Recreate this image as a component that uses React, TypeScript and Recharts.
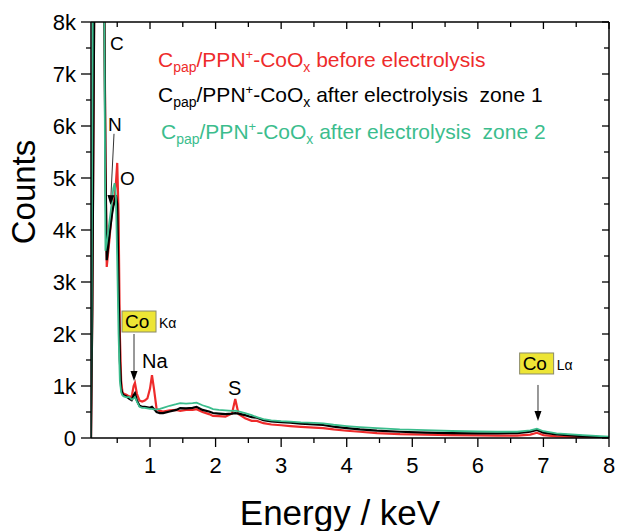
import { LineChart, Line, XAxis, YAxis } from "recharts";

const FONT = "'Liberation Sans', Arial, sans-serif";
const RED = "#ee2b2b";
const GREEN = "#3bbd8d";

// spectrum (counts above 8k are clipped by the axis)
const energy = [
  0.1, 0.12, 0.14, 0.16, 0.2, 0.25, 0.28, 0.3, 0.32, 0.34, 0.36, 0.38, 0.4, 0.42, 0.44, 0.46, 0.48, 0.5,
  0.52, 0.54, 0.56, 0.58, 0.6, 0.64, 0.68, 0.72, 0.75, 0.77, 0.8, 0.84, 0.88, 0.92, 0.96, 1.0, 1.03, 1.06,
  1.1, 1.15, 1.2, 1.3, 1.4, 1.46, 1.55, 1.65, 1.71, 1.8, 1.9, 1.96, 2.05, 2.15, 2.25, 2.3, 2.35, 2.45,
  2.55, 2.63, 2.73, 2.85, 3.0, 3.14, 3.3, 3.5, 3.64, 3.8, 4.0, 4.2, 4.46, 4.81, 5.2, 5.6, 6.0, 6.3, 6.6,
  6.8, 6.9, 7.0, 7.2, 7.6, 8.0,
];
const countsBefore = [
  0, 2500, 6500, 10500, 20000, 30000, 20000, 9000, 5500, 3290, 3550, 3800, 4100, 4350, 4500, 4650, 4900, 5290,
  4300, 2000, 1100, 880, 850, 830, 800, 790, 1000, 1060, 850, 720, 700, 720, 760, 950, 1210, 950,
  560, 520, 510, 530, 540, 520, 540, 540, 555, 500, 460, 425, 420, 410, 470, 750, 460, 380,
  330, 330, 285, 260, 245, 230, 215, 200, 190, 165, 140, 120, 95, 75, 65, 55, 50, 45, 45,
  65, 100, 55, 30, 15, 5,
];
const countsZone1 = [
  0, 2500, 6500, 10500, 20000, 30000, 20000, 9000, 5200, 3420, 3650, 3900, 4100, 4300, 4450, 4550, 4670, 4500,
  3000, 1500, 950, 850, 820, 800, 760, 730, 820, 860, 720, 620, 600, 600, 590, 580, 600, 560,
  500, 480, 480, 510, 540, 575, 570, 580, 600, 540, 510, 480, 470, 460, 470, 480, 470, 440,
  400, 390, 345, 320, 305, 295, 275, 260, 250, 220, 190, 165, 140, 120, 105, 95, 90, 90, 95,
  120, 155, 100, 70, 35, 10,
];
const countsZone2 = [
  0, 6000, 12000, 16000, 22000, 30000, 20000, 9000, 3600, 3750, 3950, 4150, 4350, 4550, 4800, 4900, 4650, 3400,
  2000, 1100, 880, 820, 800, 780, 790, 740, 760, 790, 700, 600, 580, 580, 570, 560, 560, 550,
  550, 560, 580, 620, 650, 670, 660, 670, 680, 630, 590, 555, 540, 530, 520, 525, 510, 480,
  440, 400, 365, 340, 325, 315, 300, 290, 280, 255, 230, 210, 190, 165, 150, 135, 125, 120, 120,
  145, 180, 130, 90, 55, 25,
];

const xTicks = [0.5, 1, 1.5, 2, 2.5, 3, 3.5, 4, 4.5, 5, 5.5, 6, 6.5, 7, 7.5, 8];
const yTicks = [0, 500, 1000, 1500, 2000, 2500, 3000, 3500, 4000, 4500, 5000, 5500, 6000, 6500, 7000, 7500, 8000];
const yTickLabel = (v: number) => (v === 0 ? "0" : `${v / 1000}k`);

const data = energy.map((e, i) => ({
  e,
  before: countsBefore[i],
  zone1: countsZone1[i],
  zone2: countsZone2[i],
}));

const W = 617;
const H = 531;
const X_MIN = 0.1;
const X_MAX = 8;
const Y_MAX = 8000;
const PLOT = { left: 91, right: 609, top: 22, bottom: 438 };

const toX = (e: number) => PLOT.left + ((e - X_MIN) / (X_MAX - X_MIN)) * (PLOT.right - PLOT.left);
const toY = (c: number) => PLOT.bottom - (c / Y_MAX) * (PLOT.bottom - PLOT.top);

const BottomTick = (p: any) => {
  const v = p.payload.value;
  const major = Number.isInteger(v);
  return (
    <g>
      <line x1={p.x} x2={p.x} y1={p.y} y2={p.y + (major ? 9 : 5)} stroke="#000" strokeWidth={1.3} />
      {major && (
        <text x={p.x} y={p.y + 35} textAnchor="middle" fontSize={22} fontFamily={FONT} fill="#000">
          {v}
        </text>
      )}
    </g>
  );
};

const TopTick = (p: any) => {
  const major = Number.isInteger(p.payload.value);
  return <line x1={p.x} x2={p.x} y1={p.y} y2={p.y + (major ? 7 : 5)} stroke="#000" strokeWidth={1.3} />;
};

const LeftTick = (p: any) => {
  const v = p.payload.value;
  const major = v % 1000 === 0;
  return (
    <g>
      <line x1={p.x - (major ? 10 : 5)} x2={p.x} y1={p.y} y2={p.y} stroke="#000" strokeWidth={1.3} />
      {major && (
        <text x={p.x - 15} y={p.y + 8} textAnchor="end" fontSize={22} fontFamily={FONT} fill="#000">
          {yTickLabel(v)}
        </text>
      )}
    </g>
  );
};

const RightTick = (p: any) => {
  const major = p.payload.value % 1000 === 0;
  return <line x1={p.x - (major ? 7 : 5)} x2={p.x} y1={p.y} y2={p.y} stroke="#000" strokeWidth={1.3} />;
};

const Arrow = ({ x1, y1, x2, y2 }: { x1: number; y1: number; x2: number; y2: number }) => {
  const a = Math.atan2(y2 - y1, x2 - x1);
  const len = 10;
  const hw = 3.5;
  const bx = x2 - len * Math.cos(a);
  const by = y2 - len * Math.sin(a);
  const px = -Math.sin(a) * hw;
  const py = Math.cos(a) * hw;
  return (
    <g>
      <line x1={x1} y1={y1} x2={bx} y2={by} stroke="#333" strokeWidth={1} />
      <polygon points={`${x2},${y2} ${bx + px},${by + py} ${bx - px},${by - py}`} fill="#000" />
    </g>
  );
};

const Legend = ({ y, x, color, tail }: { y: number; x: number; color: string; tail: string }) => (
  <text x={x} y={y} fill={color} fontSize={21} fontFamily={FONT} style={{ whiteSpace: "pre" }}>
    C
    <tspan fontSize={14} dy={5}>pap</tspan>
    <tspan dy={-5}>/PPN</tspan>
    <tspan fontSize={13} dy={-8}>+</tspan>
    <tspan dy={8}>-CoO</tspan>
    <tspan fontSize={14} dy={5}>x</tspan>
    <tspan dy={-5}>{tail}</tspan>
  </text>
);

const CoBox = ({ x, y, line }: { x: number; y: number; line: string }) => (
  <g>
    <rect x={x} y={y} width={34} height={21} fill="#ede535" stroke="#8a8a6a" strokeWidth={1} />
    <text x={x + 3} y={y + 17} fontSize={19} fontFamily={FONT} fill="#000">
      Co
    </text>
    <text x={x + 37} y={y + 17} fontSize={14} fontFamily={FONT} fill="#000">
      {line}
    </text>
  </g>
);

export default function App() {
  return (
    <div style={{ position: "relative", width: W, height: H, background: "#fff" }}>
      <style>{"body{margin:0}"}</style>
      <LineChart width={W} height={H} data={data} margin={{ top: 0, right: 0, bottom: 53, left: 31 }}>
        <XAxis
          dataKey="e"
          type="number"
          domain={[X_MIN, X_MAX]}
          allowDataOverflow
          ticks={xTicks}
          interval={0}
          height={40}
          tickSize={0}
          tickMargin={0}
          tick={BottomTick}
          axisLine={{ stroke: "#000", strokeWidth: 1.5 }}
        />
        <XAxis
          xAxisId="top"
          dataKey="e"
          type="number"
          orientation="top"
          domain={[X_MIN, X_MAX]}
          allowDataOverflow
          ticks={xTicks}
          interval={0}
          height={22}
          tickSize={0}
          tickMargin={0}
          tick={TopTick}
          axisLine={{ stroke: "#000", strokeWidth: 1.5 }}
        />
        <YAxis
          type="number"
          domain={[0, Y_MAX]}
          allowDataOverflow
          ticks={yTicks}
          interval={0}
          width={60}
          tickSize={0}
          tickMargin={0}
          tick={LeftTick}
          axisLine={{ stroke: "#000", strokeWidth: 1.5 }}
        />
        <YAxis
          yAxisId="right"
          type="number"
          orientation="right"
          domain={[0, Y_MAX]}
          allowDataOverflow
          ticks={yTicks}
          interval={0}
          width={8}
          tickSize={0}
          tickMargin={0}
          tick={RightTick}
          axisLine={{ stroke: "#000", strokeWidth: 1.5 }}
        />
        <Line dataKey="before" type="linear" stroke={RED} strokeWidth={2.2} dot={false} isAnimationActive={false} />
        <Line dataKey="zone1" type="linear" stroke="#000" strokeWidth={2.2} dot={false} isAnimationActive={false} />
        <Line dataKey="zone2" type="linear" stroke={GREEN} strokeWidth={1.8} dot={false} isAnimationActive={false} />
      </LineChart>

      <svg
        width={W}
        height={H}
        style={{ position: "absolute", left: 0, top: 0, pointerEvents: "none" }}
        fontFamily={FONT}
      >
        <text x={35} y={192} transform="rotate(-90 35 192)" textAnchor="middle" fontSize={33} fill="#000">
          Counts
        </text>
        <text x={340} y={525} textAnchor="middle" fontSize={35} fill="#000">
          Energy / keV
        </text>

        <Legend x={158} y={67} color={RED} tail=" before electrolysis" />
        <Legend x={158} y={102} color="#000" tail=" after electrolysis  zone 1" />
        <Legend x={161} y={139} color={GREEN} tail=" after electrolysis  zone 2" />

        <text x={toX(0.39)} y={toY(7460)} fontSize={19} fill="#000">C</text>
        <text x={toX(0.36)} y={toY(5900)} fontSize={19} fill="#000">N</text>
        <Arrow x1={toX(0.451)} y1={toY(5850)} x2={toX(0.397)} y2={toY(4480)} />
        <text x={toX(0.542)} y={toY(4865)} fontSize={19} fill="#000">O</text>

        <CoBox x={toX(0.573)} y={toY(2442)} line="Kα" />
        <Arrow x1={toX(0.756)} y1={toY(2000)} x2={toX(0.756)} y2={toY(1096)} />
        <text x={toX(0.878)} y={toY(1346)} fontSize={20} fill="#000">Na</text>
        <text x={toX(2.189)} y={toY(827)} fontSize={20} fill="#000">S</text>

        <CoBox x={toX(6.637)} y={toY(1635)} line="Lα" />
        <Arrow x1={toX(6.917)} y1={toY(1020)} x2={toX(6.917)} y2={toY(327)} />
      </svg>
    </div>
  );
}
